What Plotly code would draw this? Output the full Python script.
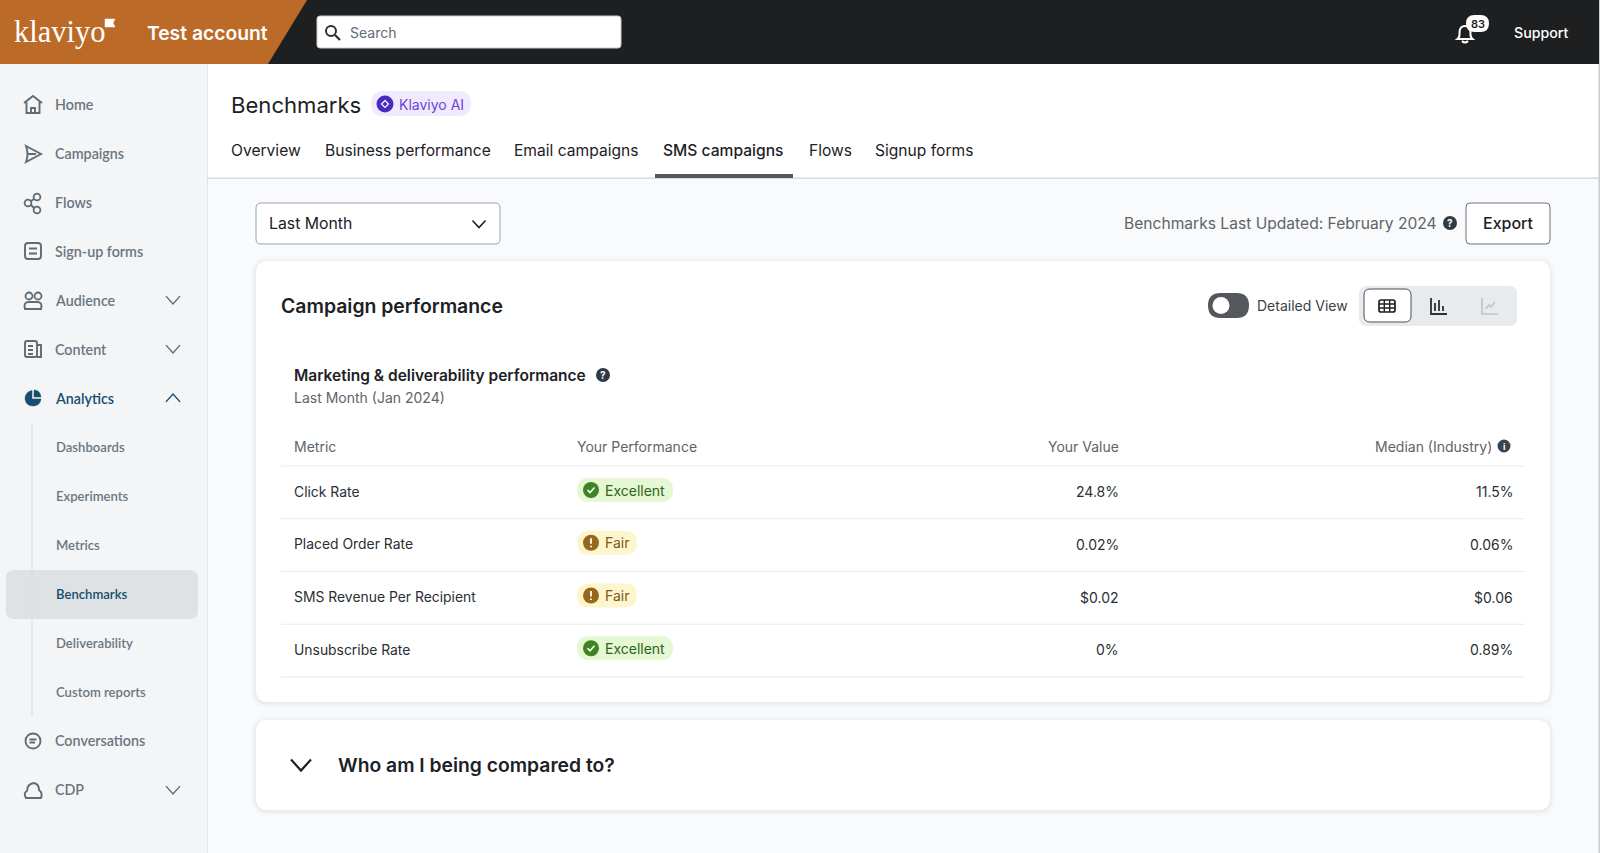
import re
import plotly.graph_objects as go

# ---- text and table values ----
nav_labels = ["Home", "Campaigns", "Flows", "Sign-up forms", "Audience", "Content", "Analytics"]
nav_sub_labels = ["Dashboards", "Experiments", "Metrics", "Benchmarks", "Deliverability", "Custom reports"]
nav_end_labels = ["Conversations", "CDP"]
tab_labels = ["Overview", "Business performance", "Email campaigns", "SMS campaigns", "Flows", "Signup forms"]
table_headers = ["Metric", "Your Performance", "Your Value", "Median (Industry)"]
metrics = ["Click Rate", "Placed Order Rate", "SMS Revenue Per Recipient", "Unsubscribe Rate"]
performance = ["Excellent", "Fair", "Fair", "Excellent"]
your_value = ["24.8%", "0.02%", "$0.02", "0%"]
median_industry = ["11.5%", "0.06%", "$0.06", "0.89%"]

UI = "Inter"
NAV = "Lato"
GREY = "#5f6b75"
NAVY = "#164e6e"
INK = "#1d2125"

shapes = []
annotations = []


def rrect(x0, y0, x1, y1, r, fill="rgba(0,0,0,0)", line=None, width=1):
    path = (f"M{x0+r},{y0} L{x1-r},{y0} Q{x1},{y0} {x1},{y0+r} L{x1},{y1-r} Q{x1},{y1} {x1-r},{y1} "
            f"L{x0+r},{y1} Q{x0},{y1} {x0},{y1-r} L{x0},{y0+r} Q{x0},{y0} {x0+r},{y0} Z")
    shapes.append(dict(type="path", path=path, fillcolor=fill,
                       line=dict(color=line or "rgba(0,0,0,0)", width=width if line else 0)))


def rect(x0, y0, x1, y1, fill):
    shapes.append(dict(type="rect", x0=x0, y0=y0, x1=x1, y1=y1, fillcolor=fill, line=dict(width=0)))


def circle(cx, cy, r, fill="rgba(0,0,0,0)", line=None, width=1.8):
    shapes.append(dict(type="circle", x0=cx-r, y0=cy-r, x1=cx+r, y1=cy+r, fillcolor=fill,
                       line=dict(color=line or "rgba(0,0,0,0)", width=width if line else 0)))


def icon(cx, cy, d, color=GREY, width=1.9, fill="rgba(0,0,0,0)"):
    # move an icon drawn around 0,0 to its place on the page
    def shift(m):
        return f"{float(m.group(1))+cx},{float(m.group(2))+cy}"
    shapes.append(dict(type="path", path=re.sub(r"(-?[\d.]+),(-?[\d.]+)", shift, d), fillcolor=fill,
                       line=dict(color=color, width=width)))


def chevron(cx, cy, half, color=GREY, up=False, width=1.4):
    h = half * 0.55 * (-1 if up else 1)
    icon(cx, cy, f"M{-half},{-h} L0,{h} L{half},{-h}", color, width)


def text(x, y, s, size=14, color=INK, anchor="left", family=UI, weight=400):
    # annotations sit 2px inside their anchor, take that back
    inset = {"left": -2, "right": 2, "center": 0}[anchor]
    annotations.append(dict(x=x, y=y, text=s, showarrow=False, xanchor=anchor, yanchor="middle", xshift=inset,
                            font=dict(family=family, size=size, color=color, weight=weight)))


def help_icon(cx, cy):
    circle(cx, cy, 7, "#2f3a45")
    text(cx, cy, "?", 10, "#ffffff", "center", weight=700)


# ---- page backgrounds ----
rect(0, 0, 1600, 853, "#f9fafb")
rect(207, 64, 1600, 178, "#ffffff")
rect(0, 64, 207, 853, "#f3f5f7")
rect(207, 64, 208, 853, "#e1e4e8")
rect(207, 177.5, 1600, 179, "#d6dade")
rect(1598.5, 0, 1600, 853, "#c9cdd1")

# ---- top bar ----
rect(0, 0, 1599, 64, "#1e1f21")
shapes.append(dict(type="path", path="M0,0 L307,0 L268,64 L0,64 Z", fillcolor="#bc6a28", line=dict(width=0)))
text(14, 32, "klaviyo", 30.5, "#ffffff", family="Liberation Serif")
icon(105, 19, "M0,0 L10,0 L8,4 L10,8 L0,8 Z", "#ffffff", 0.5, "#ffffff")
text(147, 33, "Test account", 19.3, "#ffffff", weight=600)
rrect(317, 16, 621, 48, 3, "#ffffff", "#c9cdd1")
circle(331, 31, 5, line="#2b3036", width=2)
icon(335, 35, "M0,0 L5,5", "#2b3036", 2.2)
text(349.5, 32, "Search", 14, "#5f6b75")
icon(1465, 33, "M-7.5,6 Q-5,4 -5.5,-1 Q-5,-7 0,-7 Q5,-7 5.5,-1 Q5,4 7.5,6 Z M-3,8 Q0,11 3,8", "#ffffff", 2)
rrect(1466, 15, 1489, 32, 8.5, "#ffffff")
text(1477.5, 23.5, "83", 11, "#1e1f21", "center", weight=600)
text(1514, 32, "Support", 14.2, "#ffffff", weight=500)

# ---- sidebar ----
nav_y = [104, 153, 202, 251, 300, 349, 398]
for label, y in zip(nav_labels, nav_y):
    active = label == "Analytics"
    text(55, y, label, 14.3, NAVY if active else "#6b7680", family=NAV, weight=600)
for y in (300, 349, 790):
    chevron(173, y, 7)
chevron(173, 398, 7, NAVY, up=True)

icon(33, 105, "M-9,-2 L0,-9 L9,-2 M-6.5,-3 L-6.5,8 L6.5,8 L6.5,-3 M-2,8 L-2,3 L2,3 L2,8")
icon(33, 154, "M-7,-8 L8,0 L-7,8 Q-4,0 -7,-8 Z M-5,0 L3,0")
circle(28, 203, 3.4, line=GREY)
circle(37, 197, 3.4, line=GREY)
circle(37, 210, 3.4, line=GREY)
icon(0, 0, "M31,201 L34,199 M31,205 L34,208")
rrect(25, 243, 41, 259, 3, line=GREY, width=1.9)
icon(33, 251, "M-4,-2.5 L4,-2.5 M-4,2.5 L4,2.5")
icon(33, 300, "M-8,9 Q-10,2 -4,2 L4,2 Q10,2 8,9 Z")
circle(29, 296, 3.5, line=GREY)
circle(38, 296, 3.5, line=GREY)
rrect(25, 341, 37, 357, 2, line=GREY, width=1.9)
icon(33, 349, "M4,-4 L8,-4 L8,8 L4,8 M-5,-3 L0,-3 M-5,1 L0,1 M-5,5 L0,5")
icon(33, 398, "M-1,-7.5 Q-8,-6 -8,1 Q-7,8 0,8 Q7,8 8,1 L-1,1 Z", NAVY, 0.5, NAVY)
icon(33, 398, "M1,-8 Q7,-8 8,-1 L1,-1 Z", NAVY, 0.5, NAVY)

rrect(6, 570, 198, 619, 8, "#dfe2e5")
rect(31.5, 423, 32.5, 717, "#d9dde1")
sub_y = [447, 496, 545, 594, 643, 692]
for label, y in zip(nav_sub_labels, sub_y):
    active = label == "Benchmarks"
    text(56, y, label, 13.1, NAVY if active else "#6b7680", family=NAV, weight=600)
end_y = [740, 789]
for label, y in zip(nav_end_labels, end_y):
    text(55, y, label, 14.3, "#6b7680", family=NAV, weight=600)
circle(33, 741, 7.5, line=GREY, width=1.9)
icon(33, 741, "M-3.5,-1.5 L3.5,-1.5 M-3.5,1.5 L2,1.5")
icon(33, 790, "M-7,8 Q-10,3 -6,1 Q-6,-6 1,-7 Q6,-6 6,0 Q10,3 8,8 Z")

# ---- page header and tabs ----
text(231, 105, "Benchmarks", 22.1, INK)
rrect(371, 91, 471, 116, 12.5, "#f0eafc")
circle(385, 104, 8.5, "#4a2bc2")
icon(385, 104, "M0,-3.5 L3.5,0 L0,3.5 L-3.5,0 Z", "#ffffff", 1.2)
text(399, 104, "Klaviyo AI", 14, "#6b45de")
tab_x = [231, 325, 514, 663, 809, 875]
for label, x in zip(tab_labels, tab_x):
    text(x, 150, label, 15.6, INK, weight=500 if label == "SMS campaigns" else 400)
rect(655, 174, 793, 178, "#54585c")

# ---- controls row ----
rrect(256, 203, 500, 244, 5, "#ffffff", "#9aa1a8")
text(269, 223, "Last Month", 15.8, INK)
chevron(479, 224, 6.5, INK, width=1.6)
text(1437, 223, "Benchmarks Last Updated: February 2024", 15.6, "#5f6469", "right")
help_icon(1450, 223)
rrect(1466, 203, 1550, 244, 4, "#ffffff", "#6f757b")
text(1508, 223, "Export", 16, INK, "center", weight=500)

# ---- cards ----
for x0, y0, x1, y1 in [(256, 261, 1550, 702), (256, 720, 1550, 810)]:
    for grow, alpha in [(5, 0.012), (3, 0.018), (1.5, 0.03)]:
        rrect(x0-grow, y0-grow+1, x1+grow, y1+grow+1, 12+grow, f"rgba(30,40,50,{alpha})")
    rrect(x0, y0, x1, y1, 12, "#ffffff")

text(281, 306, "Campaign performance", 19.4, INK, weight=600)
rrect(1208, 293, 1249, 318, 12.5, "#54585c")
circle(1221, 305.5, 8.5, "#ffffff")
text(1257, 305, "Detailed View", 14, "#3a3f44")
rrect(1359, 286, 1517, 326, 8, "#e8ebee")
rrect(1364, 289, 1411, 322, 6, "#ffffff", "#4a4f54")
rrect(1379, 300, 1395, 312, 2, line="#1d2125", width=1.7)
icon(1387, 306, "M-8,-2 L8,-2 M-8,2 L8,2 M-2.7,-6 L-2.7,6 M2.7,-6 L2.7,6", "#1d2125", 1.4)
icon(1439, 306, "M-8,-8 L-8,8 L8,8 M-4,5 L-4,-3 M0,5 L0,-6 M4,5 L4,0", "#2b3036", 1.8)
icon(1490, 306, "M-8,-8 L-8,8 L8,8 M-4,3 L-1,-1 L1,1 L5,-4", "#bfc5ca", 1.6)

text(294, 375, "Marketing &amp; deliverability performance", 15.5, INK, weight=600)
help_icon(603, 375)
text(294, 397, "Last Month (Jan 2024)", 14, "#5f6469")

# ---- table ----
HEADER_Y = 446
text(294, HEADER_Y, table_headers[0], 14, "#5f6469")
text(577, HEADER_Y, table_headers[1], 14, "#5f6469")
text(1119, HEADER_Y, table_headers[2], 14, "#5f6469", "right")
text(1492, HEADER_Y, table_headers[3], 14, "#5f6469", "right")
circle(1504, 446, 6.5, "#3a444e")
text(1504, 446, "i", 9, "#ffffff", "center", weight=700)

ROW_H = 52.75
rect(281, 465.5, 1525, 466.5, "#e8eaec")
for i, name in enumerate(metrics):
    mid = 491.5 + i * ROW_H
    line_y = 466 + (i + 1) * ROW_H
    rect(281, line_y-0.5, 1525, line_y+0.5, "#e8eaec")
    text(294, mid, name, 13.9, "#2a2f34")
    text(1119, mid, your_value[i], 14, "#2a2f34", "right")
    text(1513, mid, median_industry[i], 14, "#2a2f34", "right")
    py = mid - 1.5
    if performance[i] == "Excellent":
        rrect(577, py-12, 673, py+12, 12, "#e6f7d3")
        circle(591, py, 8, "#3f8423")
        icon(591, py, "M-3.5,0 L-1,2.5 L3.5,-2.5", "#ffffff", 1.6)
        text(605, py, performance[i], 14, "#2f6418")
    else:
        rrect(577, py-12, 637, py+12, 12, "#fdf6cd")
        circle(591, py, 8, "#97681c")
        icon(591, py, "M0,-4.5 L0,1 M0,3 L0,4.5", "#ffffff", 1.8)
        text(605, py, performance[i], 14, "#7d5716")

# ---- collapsed section ----
chevron(301, 765, 10, INK, width=2.2)
text(338, 765, "Who am I being compared to?", 19.3, INK, weight=600)

fig = go.Figure()
fig.update_layout(
    width=1600, height=853,
    margin=dict(l=0, r=0, t=0, b=0),
    paper_bgcolor="#f9fafb", plot_bgcolor="#f9fafb",
    xaxis=dict(range=[0, 1600], visible=False, fixedrange=True),
    yaxis=dict(range=[853, 0], visible=False, fixedrange=True),
    shapes=shapes, annotations=annotations, showlegend=False,
)
# the page's default body margin would push the whole picture 8px in
fig.write_html("out.html", config=dict(displayModeBar=False),
               post_script="document.body.style.margin='0';document.body.style.overflow='hidden';")
